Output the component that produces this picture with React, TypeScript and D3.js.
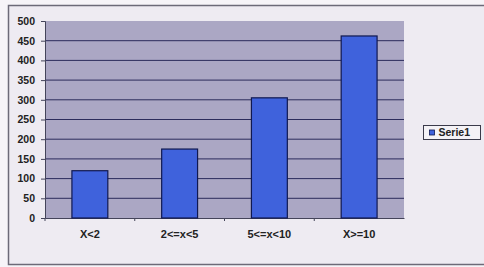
import * as d3 from 'd3';
import React, { useEffect, useRef } from 'react';

const categories = ['X<2', '2<=x<5', '5<=x<10', 'X>=10'];
const serie1 = [120, 175, 305, 462];
const yTicks = [0, 50, 100, 150, 200, 250, 300, 350, 400, 450, 500];
const seriesName = 'Serie1';

const App = () => {
  const ref = useRef<SVGSVGElement>(null);

  useEffect(() => {
    if (!ref.current) return;
    const svg = d3.select(ref.current);
    svg.selectAll('*').remove();

    const width = 484, height = 267;
    const plot = { left: 45, top: 21, right: 404, bottom: 218 };
    const font = 'Liberation Sans, Arial, sans-serif';

    // chart area background + border
    svg.append('rect').attr('width', width).attr('height', height).attr('fill', '#f6f4f8');
    svg.append('rect')
      .attr('x', 8.5).attr('y', 5.5)
      .attr('width', 480).attr('height', 259)
      .attr('fill', '#eeebf2')
      .attr('stroke', '#6c6a78').attr('stroke-width', 1.5);

    const x = d3.scaleBand()
      .domain(categories)
      .range([plot.left, plot.right])
      .paddingInner(0.6)
      .paddingOuter(0.3);

    const y = d3.scaleLinear().domain([0, 500]).range([plot.bottom, plot.top]);

    // plot area
    svg.append('rect')
      .attr('x', plot.left).attr('y', plot.top)
      .attr('width', plot.right - plot.left).attr('height', plot.bottom - plot.top)
      .attr('fill', '#aba7c4');

    // gridlines
    svg.append('g')
      .selectAll('line')
      .data(yTicks.filter(d => d > 0 && d < 500))
      .join('line')
      .attr('x1', plot.left).attr('x2', plot.right)
      .attr('y1', d => y(d)).attr('y2', d => y(d))
      .attr('stroke', '#2c2c5c').attr('stroke-width', 1);

    // y axis
    const yAxis = svg.append('g')
      .attr('transform', `translate(${plot.left},0)`)
      .call(d3.axisLeft(y).tickValues(yTicks).tickSize(4).tickPadding(6));
    yAxis.select('.domain').attr('stroke', '#44445a');
    yAxis.selectAll('.tick line').attr('stroke', '#44445a');
    yAxis.selectAll('text')
      .attr('font-family', font)
      .attr('font-size', 10.5).attr('font-weight', 'bold').attr('fill', '#222');

    // x axis
    const xAxis = svg.append('g')
      .attr('transform', `translate(0,${plot.bottom})`)
      .call(d3.axisBottom(x).tickSize(0).tickPadding(12));
    xAxis.select('.domain').attr('stroke', '#44445a');
    xAxis.selectAll('text')
      .attr('font-family', font)
      .attr('font-size', 11).attr('font-weight', 'bold').attr('fill', '#222');

    // category boundary ticks
    const step = x.step();
    svg.append('g')
      .selectAll('line')
      .data(categories)
      .join('line')
      .attr('x1', (d, i) => plot.left + step * i)
      .attr('x2', (d, i) => plot.left + step * i)
      .attr('y1', plot.bottom).attr('y2', plot.bottom + 3)
      .attr('stroke', '#44445a');

    // bars
    svg.append('g')
      .selectAll('rect')
      .data(serie1)
      .join('rect')
      .attr('x', (d, i) => x(categories[i]) as number)
      .attr('y', d => y(d))
      .attr('width', x.bandwidth())
      .attr('height', d => plot.bottom - y(d))
      .attr('fill', '#3f62dc')
      .attr('stroke', '#101850').attr('stroke-width', 1.2);

    // legend
    const lg = svg.append('g').attr('transform', 'translate(423.5,125.5)');
    lg.append('rect').attr('width', 57).attr('height', 14)
      .attr('fill', '#f4f2f6').attr('stroke', '#3a3a4a').attr('stroke-width', 1);
    lg.append('rect').attr('x', 6).attr('y', 4.5).attr('width', 5).attr('height', 5)
      .attr('fill', '#3f62dc').attr('stroke', '#101850').attr('stroke-width', 0.8);
    lg.append('text').attr('x', 15).attr('y', 10.8)
      .attr('font-family', font)
      .attr('font-size', 10.5).attr('font-weight', 'bold').attr('fill', '#222')
      .text(seriesName);
  }, []);

  return (
    <svg ref={ref} width={484} height={267}
      style={{ position: 'absolute', left: 0, top: 0, display: 'block' }} />
  );
};

export default App;
